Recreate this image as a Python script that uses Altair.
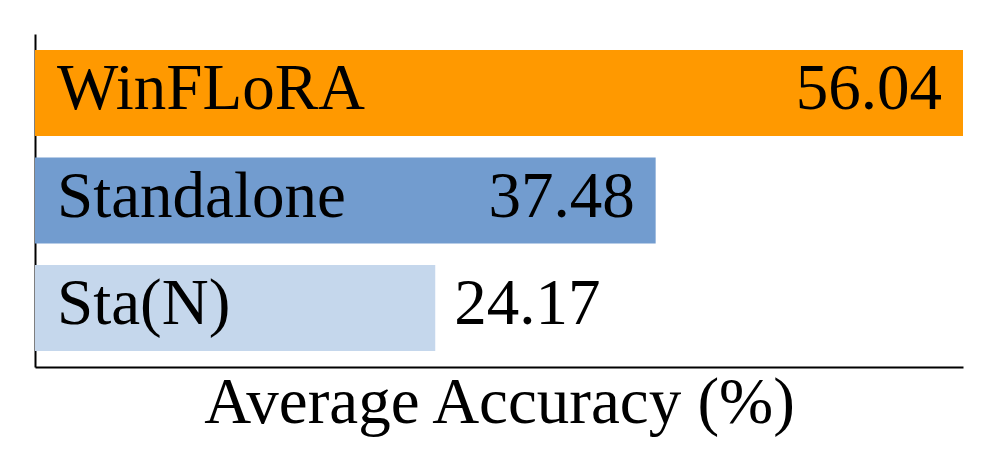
import altair as alt
import pandas as pd

methods = ["WinFLoRA", "Standalone", "Sta(N)"]
accuracy = [56.04, 37.48, 24.17]
value_inside = [True, True, False]
colors = ["#FF9900", "#729CCF", "#C5D7EC"]

df = pd.DataFrame({
    "method": methods,
    "acc": accuracy,
    "inside": value_inside,
    "label": [f"{v:.2f}" for v in accuracy],
})

FONT = "Liberation Serif"
FS = 65

x = alt.X("acc:Q", scale=alt.Scale(domain=[0, 56.04], nice=False, zero=True),
          axis=alt.Axis(title="Average Accuracy (%)", labels=False, ticks=False, grid=False,
                        domainColor="black", domainWidth=2, titleFont=FONT, titleFontSize=FS,
                        titleFontWeight="normal", titleColor="black",
                        titleBaseline="alphabetic", titlePadding=55))
y = alt.Y("method:N", sort=methods,
          scale=alt.Scale(paddingInner=0.2, paddingOuter=0.15),
          axis=alt.Axis(title=None, labels=False, ticks=False, grid=False,
                        domainColor="black", domainWidth=2))

bars = alt.Chart(df).mark_bar().encode(
    x=x, y=y,
    color=alt.Color("method:N", scale=alt.Scale(domain=methods, range=colors), legend=None),
)

names = alt.Chart(df).mark_text(align="left", baseline="alphabetic", dx=22, dy=16,
                                font=FONT, fontSize=FS, color="black").encode(
    x=alt.value(0), y=y, text="method:N")

vals_in = alt.Chart(df).transform_filter("datum.inside").mark_text(
    align="right", baseline="alphabetic", dx=-21, dy=16,
    font=FONT, fontSize=FS, color="black").encode(x=x, y=y, text="label:N")

vals_out = alt.Chart(df).transform_filter("!datum.inside").mark_text(
    align="left", baseline="alphabetic", dx=19, dy=16,
    font=FONT, fontSize=FS, color="black").encode(x=x, y=y, text="label:N")

chart = alt.layer(bars, names, vals_in, vals_out).properties(
    width=928, height=333,
    background="white",
    autosize=alt.AutoSizeParams(type="none"),
    padding={"left": 27, "top": 26, "right": 20, "bottom": 98},
).configure_view(strokeWidth=0, stroke="transparent")

chart.save("out.html", embed_options={"renderer": "svg", "actions": False})
